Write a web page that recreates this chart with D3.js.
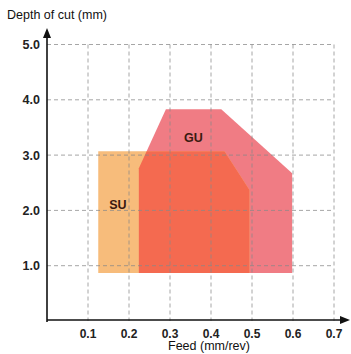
<!DOCTYPE html>
<html><head><meta charset="utf-8">
<script src="https://cdn.jsdelivr.net/npm/d3@7"></script>
<style>body{margin:0;background:#fff}svg{display:block}</style>
</head><body>
<script>
const xTicks = [0.1,0.2,0.3,0.4,0.5,0.6,0.7];
const yTicks = [1.0,2.0,3.0,4.0,5.0];
const suRegion = [[0.125,0.87],[0.125,3.07],[0.433,3.07],[0.494,2.37],[0.494,0.87]];
const guRegion = [[0.224,0.87],[0.224,2.76],[0.29,3.83],[0.425,3.83],[0.598,2.67],[0.598,0.87]];
const regionLabels = [{name:"SU",x:0.173,y:2.1},{name:"GU",x:0.357,y:3.32}];

const W=351,H=354;
const svg=d3.select("body").append("svg").attr("width",W).attr("height",H);
const x=d3.scaleLinear().domain([0,0.7]).range([47,334]);
const y=d3.scaleLinear().domain([0,5]).range([321,44.5]);
const font="Helvetica, Arial, 'Liberation Sans', sans-serif";

const line=d3.line().x(d=>x(d[0])).y(d=>y(d[1]));
svg.append("path").attr("d",line(guRegion)+"Z").attr("fill","#f07c84");
svg.append("path").attr("d",line(suRegion)+"Z").attr("fill","#f7bc7b");
svg.append("clipPath").attr("id","guclip").append("path").attr("d",line(guRegion)+"Z");
svg.append("path").attr("d",line(suRegion)+"Z").attr("fill","#f46a50").attr("clip-path","url(#guclip)");

// grid
const g=svg.append("g").attr("stroke","#888").attr("stroke-opacity",0.75).attr("stroke-width",1).attr("stroke-dasharray","4,3");
g.selectAll(".v").data(xTicks).join("line").attr("x1",d=>x(d)).attr("x2",d=>x(d)).attr("y1",y(5)).attr("y2",y(0));
g.selectAll(".h").data(yTicks).join("line").attr("x1",x(0)).attr("x2",x(0.7)).attr("y1",d=>y(d)).attr("y2",d=>y(d));

// axes
const ax=svg.append("g").attr("stroke","#111").attr("stroke-width",1.6);
ax.append("line").attr("x1",x(0)).attr("x2",x(0)).attr("y1",y(0)+1).attr("y2",34);
ax.append("line").attr("x1",x(0)).attr("x2",343).attr("y1",y(0)-1).attr("y2",y(0)-1);
svg.append("path").attr("d",`M${x(0)},28 L${x(0)-4},38 L${x(0)+4},38 Z`).attr("fill","#111");
svg.append("path").attr("d",`M350,${y(0)-1} L340,${y(0)-5} L340,${y(0)+3} Z`).attr("fill","#111");

svg.selectAll(".yt").data(yTicks).join("text").attr("x",40).attr("y",d=>y(d)+4.5)
  .attr("text-anchor","end").attr("font-family",font).attr("font-size",12.5).attr("font-weight","bold").attr("fill","#222")
  .text(d=>d.toFixed(1));
svg.selectAll(".xt").data(xTicks).join("text").attr("x",d=>x(d)).attr("y",337.5)
  .attr("text-anchor","middle").attr("font-family",font).attr("font-size",12).attr("font-weight","bold").attr("fill","#222")
  .text(d=>d.toFixed(1));
svg.append("text").attr("x",7).attr("y",19).attr("font-family",font).attr("font-size",12.5).attr("fill","#111").text("Depth of cut (mm)");
svg.append("text").attr("x",209).attr("y",350).attr("text-anchor","middle").attr("font-family",font).attr("font-size",12.5).attr("fill","#111").text("Feed (mm/rev)");
svg.selectAll(".rl").data(regionLabels).join("text").attr("x",d=>x(d.x)).attr("y",d=>y(d.y)+4.5)
  .attr("text-anchor","middle").attr("font-family",font).attr("font-size",12.5).attr("font-weight","bold").attr("fill","#3a1a10")
  .text(d=>d.name);
</script>
</body></html>
